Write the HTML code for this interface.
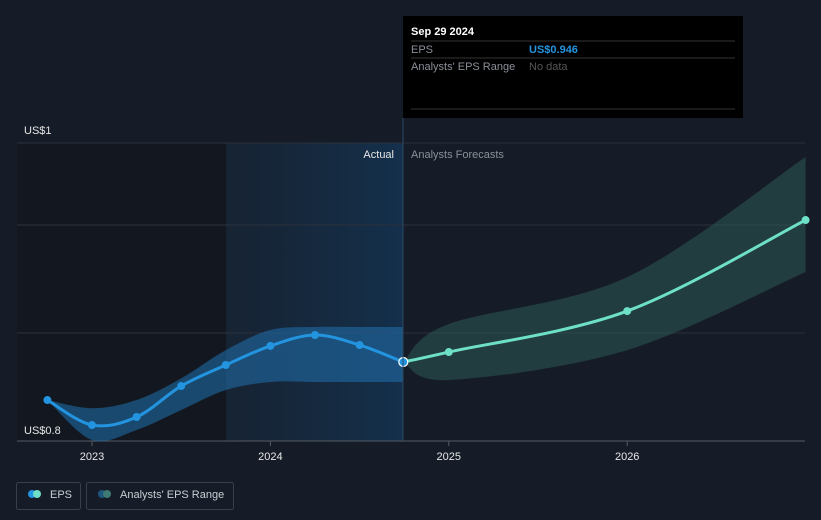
<!DOCTYPE html>
<html><head><meta charset="utf-8"><style>
body{margin:0;background:#151b26;font-family:"Liberation Sans",sans-serif;}
svg{display:block}
</style></head><body>
<svg id="c" width="821" height="520">
<defs>
<linearGradient id="hl" x1="0" x2="1"><stop offset="0" stop-color="#17283b" stop-opacity="0.6"/><stop offset="1" stop-color="#14304c"/></linearGradient>
</defs>
<rect x="0" y="0" width="821" height="520" fill="#161c27"/>
<rect x="17" y="143" width="209" height="298" fill="#131820"/>
<rect x="226" y="143" width="177" height="298" fill="url(#hl)"/>
<g id="grid"></g>
<g id="bands"></g>
<g id="lines"></g>
<g id="pts"></g>
<line x1="403" y1="118" x2="403" y2="441" stroke="#2a4a66" stroke-width="1"/>
<text x="394" y="158" fill="#e6e6e6" font-size="11" text-anchor="end">Actual</text>
<text x="411" y="158" fill="#8a8f98" font-size="11">Analysts Forecasts</text>
<text x="24" y="134" fill="#e6e6e6" font-size="11">US$1</text>
<text x="24" y="434" fill="#e6e6e6" font-size="11">US$0.8</text>
<g id="xt"></g>
<g>
<rect x="403" y="16" width="340" height="102" fill="#000"/>
<text x="411" y="35" fill="#fff" font-size="11" font-weight="bold">Sep 29 2024</text>
<line x1="411" y1="41" x2="735" y2="41" stroke="#333"/>
<text x="411" y="53" fill="#8a8f98" font-size="11">EPS</text>
<text x="529" y="53" fill="#2394df" font-size="11" font-weight="bold">US$0.946</text>
<line x1="411" y1="58" x2="735" y2="58" stroke="#333"/>
<text x="411" y="70" fill="#8a8f98" font-size="11">Analysts' EPS Range</text>
<text x="529" y="70" fill="#555" font-size="11">No data</text>
<line x1="411" y1="109" x2="735" y2="109" stroke="#333"/>
</g>
<g>
<rect x="16.5" y="482.5" width="64" height="27" rx="2" fill="none" stroke="#3a3f48"/>
<circle cx="32" cy="494" r="4" fill="#2394df"/><circle cx="37" cy="494" r="4" fill="#6ee0c8"/>
<text x="50" y="498" fill="#c8ccd2" font-size="11">EPS</text>
</g>
<g>
<rect x="86.5" y="482.5" width="147" height="27" rx="2" fill="none" stroke="#3a3f48"/>
<circle cx="102" cy="494" r="4" fill="#1e5680"/><circle cx="107" cy="494" r="4" fill="#3c7a72"/>
<text x="120" y="498" fill="#c8ccd2" font-size="11">Analysts' EPS Range</text>
</g>
</svg>
<script>
const pastYears=[2022.75,2023.0,2023.25,2023.5,2023.75,2024.0,2024.25,2024.5,2024.745];
const pastEps=[0.8275,0.8107,0.8161,0.8369,0.851,0.8638,0.8711,0.8644,0.853];
const pastHigh=[0.8275,0.822,0.8275,0.842,0.861,0.8745,0.8765,0.8765,0.8765];
const pastLow=[0.8275,0.8007,0.8074,0.8208,0.8342,0.8396,0.8396,0.8396,0.8396];
const fcYears=[2024.745,2025,2026,2027];
const fcEps=[0.853,0.8597,0.8872,0.9483];
const fcHigh=[0.853,0.8785,0.91,0.9906];
const fcLow=[0.853,0.8409,0.861,0.9134];
const xTicks=[2023,2024,2025,2026];
const yGrid=[0.8,0.8725,0.945,1.0];
const X=y=>92+(y-2023)*178.4;
const Y=v=>441-(v-0.8)*1490;
const NS="http://www.w3.org/2000/svg";
function mk(t,a,p){const e=document.createElementNS(NS,t);for(const k in a)e.setAttribute(k,a[k]);p.appendChild(e);return e;}
function clamp(v,a,b){const lo=Math.min(a,b),hi=Math.max(a,b);return Math.max(lo,Math.min(hi,v));}
function path(xs,vs){const P=xs.map((x,i)=>[X(x),Y(vs[i])]);let d="M"+P[0][0]+","+P[0][1];
for(let i=0;i<P.length-1;i++){const p0=P[i-1]||P[i],p1=P[i],p2=P[i+1],p3=P[i+2]||p2;
const c1x=clamp(p1[0]+(p2[0]-p0[0])/6,p1[0],p2[0]),c2x=clamp(p2[0]-(p3[0]-p1[0])/6,p1[0],p2[0]);
d+=" C"+c1x+","+(p1[1]+(p2[1]-p0[1])/6)+" "+c2x+","+(p2[1]-(p3[1]-p1[1])/6)+" "+p2[0]+","+p2[1];}return d;}
function band(xs,hi,lo){const top=path(xs,hi);const bx=xs.slice().reverse(),bl=lo.slice().reverse();return top+" L"+path(bx,bl).slice(1)+"Z";}
const g=document.getElementById("grid");
yGrid.forEach(v=>{const l=mk("line",{x1:17,x2:805,y1:Y(v),y2:Y(v),stroke:v===0.8?"#555b66":"#2b313b"},g);

});
const xt=document.getElementById("xt");
xTicks.forEach(t=>{mk("line",{x1:X(t),x2:X(t),y1:441,y2:446,stroke:"#555b66"},xt);
const tx=mk("text",{x:X(t),y:460,fill:"#e6e6e6","font-size":11,"text-anchor":"middle"},xt);tx.textContent=t;

});
const b=document.getElementById("bands");
const pb=mk("path",{d:band(pastYears,pastHigh,pastLow),fill:"#1f6aa5","fill-opacity":0.6},b);


const fb=mk("path",{d:band(fcYears,fcHigh,fcLow),fill:"#2c5a55","fill-opacity":0.55},b);


const L=document.getElementById("lines");
const pl=mk("path",{d:path(pastYears,pastEps),fill:"none",stroke:"#2394df","stroke-width":3},L);


const fl=mk("path",{d:path(fcYears,fcEps),fill:"none",stroke:"#6ee0c8","stroke-width":3},L);


const P=document.getElementById("pts");
pastYears.forEach((y,i)=>{const last=i===pastYears.length-1;
const c=mk("circle",{cx:X(y),cy:Y(pastEps[i]),r:last?4.5:4,fill:"#2394df",stroke:last?"#fff":"none","stroke-width":1.2},P);

});
fcYears.forEach((y,i)=>{if(i===0)return;
const c=mk("circle",{cx:X(y),cy:Y(fcEps[i]),r:4,fill:"#6ee0c8"},P);

});
</script>
</body></html>
